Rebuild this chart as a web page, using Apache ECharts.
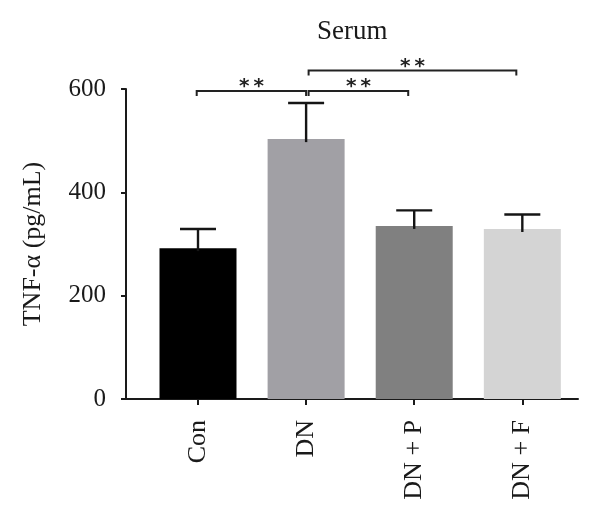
<!DOCTYPE html>
<html>
<head>
<meta charset="utf-8">
<script src="https://cdn.jsdelivr.net/npm/echarts@6/dist/echarts.min.js"></script>
<style>
  html, body { margin: 0; padding: 0; background: #fff; }
  #chart { width: 600px; height: 523px; }
</style>
</head>
<body>
<div id="chart"></div>
<script>
// ---- data ----
var categories = ['Con', 'DN', 'DN + P', 'DN + F'];
var meanValues = [292, 503, 335, 329];
var errorValues = [37, 70, 30, 28];
var barColors = ['#000000', '#a1a0a5', '#808080', '#d4d4d4'];
var yTicks = [0, 200, 400, 600];
// significance comparisons: [fromIndex, toIndex, bracketLevel]
var comparisons = [[0, 1, 596], [1, 2, 596], [1, 3, 636]];
var sigLabels = ['*\u2009*', '*\u2009*', '*\u2009*'];

var FONT = 'Liberation Serif';
var chart = echarts.init(document.getElementById('chart'));

var barData = categories.map(function (c, i) {
  return { value: [i, meanValues[i]], itemStyle: { color: barColors[i] } };
});
var errData = categories.map(function (c, i) { return [i, meanValues[i], errorValues[i]]; });
var sigData = comparisons.map(function (c) { return [c[0], c[1], c[2]]; });

chart.setOption({
  animation: false,
  backgroundColor: '#ffffff',
  title: {
    text: 'Serum',
    left: 312,
    top: 13,
    textStyle: { fontFamily: FONT, fontSize: 27, fontWeight: 'normal', color: '#1a1a1a' }
  },
  grid: { left: 126, right: 22, top: 89, bottom: 124, containLabel: false },
  xAxis: {
    type: 'value',
    min: -0.666,
    max: 3.515,
    splitLine: { show: false },
    axisLine: { show: true, onZero: false, lineStyle: { color: '#1a1a1a', width: 2 } },
    axisTick: { show: true, length: 6, lineStyle: { color: '#1a1a1a', width: 2 }, customValues: [0, 1, 2, 3] },
    axisLabel: {
      customValues: [0, 1, 2, 3],
      rotate: 90,
      margin: 21,
      fontFamily: FONT,
      fontSize: 26,
      color: '#1a1a1a',
      formatter: function (v) { return categories[Math.round(v)]; }
    }
  },
  yAxis: {
    type: 'value',
    min: 0,
    max: 600,
    interval: 200,
    name: 'TNF-α (pg/mL)',
    nameLocation: 'middle',
    nameGap: 80,
    nameTextStyle: { fontFamily: FONT, fontSize: 26, color: '#1a1a1a' },
    splitLine: { show: false },
    axisLine: { show: true, onZero: false, lineStyle: { color: '#1a1a1a', width: 2 } },
    axisTick: { show: true, length: 5, lineStyle: { color: '#1a1a1a', width: 2 } },
    axisLabel: {
      margin: 20,
      fontFamily: FONT,
      fontSize: 25,
      color: '#1a1a1a',
      formatter: function (v) { return yTicks.indexOf(v) >= 0 ? String(v) : ''; }
    }
  },
  series: [
    {
      type: 'bar',
      data: barData,
      barWidth: 77,
      z: 2
    },
    {
      type: 'custom',
      z: 3,
      clip: false,
      data: errData,
      renderItem: function (params, api) {
        var x = api.value(0), m = api.value(1), e = api.value(2);
        var p0 = api.coord([x, m]);
        var p1 = api.coord([x, m + e]);
        var hw = 18;
        var st = { stroke: '#151515', lineWidth: 2.4 };
        return {
          type: 'group',
          children: [
            { type: 'line', shape: { x1: p0[0], y1: p0[1] + 3, x2: p1[0], y2: p1[1] }, style: st },
            { type: 'line', shape: { x1: p1[0] - hw, y1: p1[1], x2: p1[0] + hw, y2: p1[1] }, style: st }
          ]
        };
      }
    },
    {
      type: 'custom',
      z: 4,
      clip: false,
      data: sigData,
      renderItem: function (params, api) {
        var a = api.value(0), b = api.value(1), lvl = api.value(2);
        var pa = api.coord([a, lvl]);
        var pb = api.coord([b, lvl]);
        var x1 = pa[0] + (a === 1 ? 2.5 : -1.3);
        var x2 = pb[0] + (b === 1 ? 0 : -6);
        var y = pa[1];
        return {
          type: 'group',
          children: [
            { type: 'polyline', shape: { points: [[x1, y + 5], [x1, y], [x2, y], [x2, y + 5]] }, style: { stroke: '#222', lineWidth: 2, fill: null } },
            { type: 'text', style: { text: sigLabels[params.dataIndex], x: (x1 + x2) / 2, y: y - 4, align: 'center', verticalAlign: 'middle', fontFamily: 'DejaVu Sans', fontWeight: 'bold', fontSize: 20, fill: '#222' } }
          ]
        };
      }
    }
  ]
});
</script>
</body>
</html>
